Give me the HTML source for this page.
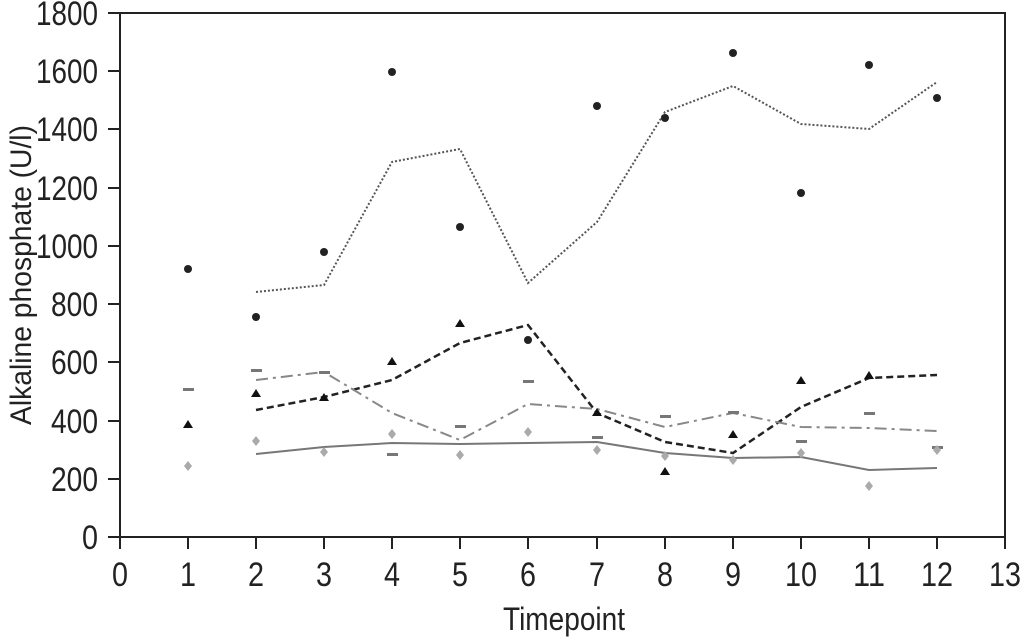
<!DOCTYPE html>
<html><head><style>body{margin:0;background:#fff}svg{display:block}</style></head><body>
<svg width="1020" height="639" viewBox="0 0 1020 639" xmlns="http://www.w3.org/2000/svg" font-family="'Liberation Sans',sans-serif">
<rect x="120" y="13" width="885" height="524" fill="none" stroke="#222" stroke-width="2"/>
<g stroke="#222" stroke-width="2">
<line x1="108" y1="537" x2="120" y2="537"/><line x1="108" y1="479" x2="120" y2="479"/><line x1="108" y1="421" x2="120" y2="421"/><line x1="108" y1="362" x2="120" y2="362"/><line x1="108" y1="304" x2="120" y2="304"/><line x1="108" y1="246" x2="120" y2="246"/><line x1="108" y1="188" x2="120" y2="188"/><line x1="108" y1="129" x2="120" y2="129"/><line x1="108" y1="71" x2="120" y2="71"/><line x1="108" y1="13" x2="120" y2="13"/>
<line x1="120" y1="537" x2="120" y2="549"/><line x1="188" y1="537" x2="188" y2="549"/><line x1="256" y1="537" x2="256" y2="549"/><line x1="324" y1="537" x2="324" y2="549"/><line x1="392" y1="537" x2="392" y2="549"/><line x1="460" y1="537" x2="460" y2="549"/><line x1="528" y1="537" x2="528" y2="549"/><line x1="597" y1="537" x2="597" y2="549"/><line x1="665" y1="537" x2="665" y2="549"/><line x1="733" y1="537" x2="733" y2="549"/><line x1="801" y1="537" x2="801" y2="549"/><line x1="869" y1="537" x2="869" y2="549"/><line x1="937" y1="537" x2="937" y2="549"/><line x1="1005" y1="537" x2="1005" y2="549"/>
</g>
<g font-size="34" fill="#222" text-anchor="end">
<text x="98" y="549" textLength="16" lengthAdjust="spacingAndGlyphs">0</text>
<text x="98" y="491" textLength="47" lengthAdjust="spacingAndGlyphs">200</text>
<text x="98" y="433" textLength="47" lengthAdjust="spacingAndGlyphs">400</text>
<text x="98" y="374" textLength="47" lengthAdjust="spacingAndGlyphs">600</text>
<text x="98" y="316" textLength="47" lengthAdjust="spacingAndGlyphs">800</text>
<text x="98" y="258" textLength="62" lengthAdjust="spacingAndGlyphs">1000</text>
<text x="98" y="200" textLength="62" lengthAdjust="spacingAndGlyphs">1200</text>
<text x="98" y="141" textLength="62" lengthAdjust="spacingAndGlyphs">1400</text>
<text x="98" y="83" textLength="62" lengthAdjust="spacingAndGlyphs">1600</text>
<text x="98" y="25" textLength="62" lengthAdjust="spacingAndGlyphs">1800</text>
</g>
<g font-size="34" fill="#222" text-anchor="middle">
<text x="120" y="586" textLength="16" lengthAdjust="spacingAndGlyphs">0</text>
<text x="188" y="586" textLength="16" lengthAdjust="spacingAndGlyphs">1</text>
<text x="256" y="586" textLength="16" lengthAdjust="spacingAndGlyphs">2</text>
<text x="324" y="586" textLength="16" lengthAdjust="spacingAndGlyphs">3</text>
<text x="392" y="586" textLength="16" lengthAdjust="spacingAndGlyphs">4</text>
<text x="460" y="586" textLength="16" lengthAdjust="spacingAndGlyphs">5</text>
<text x="528" y="586" textLength="16" lengthAdjust="spacingAndGlyphs">6</text>
<text x="597" y="586" textLength="16" lengthAdjust="spacingAndGlyphs">7</text>
<text x="665" y="586" textLength="16" lengthAdjust="spacingAndGlyphs">8</text>
<text x="733" y="586" textLength="16" lengthAdjust="spacingAndGlyphs">9</text>
<text x="801" y="586" textLength="32" lengthAdjust="spacingAndGlyphs">10</text>
<text x="869" y="586" textLength="32" lengthAdjust="spacingAndGlyphs">11</text>
<text x="937" y="586" textLength="32" lengthAdjust="spacingAndGlyphs">12</text>
<text x="1005" y="586" textLength="32" lengthAdjust="spacingAndGlyphs">13</text>
<text x="564" y="630" font-size="32" textLength="122" lengthAdjust="spacingAndGlyphs">Timepoint</text>
<text transform="translate(31,275) rotate(-90)" font-size="30" textLength="300" lengthAdjust="spacingAndGlyphs">Alkaline phosphate (U/l)</text>
</g>
<polyline fill="none" stroke="#555" stroke-width="2" stroke-dasharray="2,2" points="256,292 324,285 392,162 460,149 528,283 597,222 665,112 733,86 801,124 869,129 937,82"/>
<polyline fill="none" stroke="#222" stroke-width="2.5" stroke-dasharray="7,4" points="256,410 324,397 392,380 460,343 528,325 597,413 665,442 733,453 801,407 869,378 937,375"/>
<polyline fill="none" stroke="#888" stroke-width="2" stroke-dasharray="12,5,3,5" points="256,380 324,372 392,413 460,440 528,404 597,409 665,427 733,413 801,427 869,428 937,431"/>
<polyline fill="none" stroke="#777" stroke-width="2" points="256,454 324,447 392,443 460,444 528,443 597,442 665,453 733,458 801,457 869,470 937,468"/>
<g fill="#222">
<circle cx="188" cy="269" r="4"/><circle cx="256" cy="317" r="4"/><circle cx="324" cy="252" r="4"/><circle cx="392" cy="72" r="4"/><circle cx="460" cy="227" r="4"/><circle cx="528" cy="340" r="4"/><circle cx="597" cy="106" r="4"/><circle cx="665" cy="118" r="4"/><circle cx="733" cy="53" r="4"/><circle cx="801" cy="193" r="4"/><circle cx="869" cy="65" r="4"/><circle cx="937" cy="98" r="4"/>
</g>
<g fill="#111">
<path d="M188,420 l5,8 h-10z"/><path d="M256,389 l5,8 h-10z"/><path d="M324,393 l5,8 h-10z"/><path d="M392,357 l5,8 h-10z"/><path d="M460,319 l5,8 h-10z"/><path d="M597,408 l5,8 h-10z"/><path d="M665,467 l5,8 h-10z"/><path d="M733,430 l5,8 h-10z"/><path d="M801,376 l5,8 h-10z"/><path d="M869,371 l5,8 h-10z"/>
</g>
<g fill="#777">
<rect x="183" y="388" width="11" height="3"/><rect x="251" y="369" width="11" height="3"/><rect x="319" y="371" width="11" height="3"/><rect x="387" y="453" width="11" height="3"/><rect x="455" y="425" width="11" height="3"/><rect x="523" y="380" width="11" height="3"/><rect x="592" y="436" width="11" height="3"/><rect x="660" y="415" width="11" height="3"/><rect x="728" y="411" width="11" height="3"/><rect x="796" y="440" width="11" height="3"/><rect x="864" y="412" width="11" height="3"/><rect x="932" y="446" width="11" height="3"/>
</g>
<g fill="#aaa">
<path d="M188,461 l4,5 -4,5 -4,-5z"/><path d="M256,436 l4,5 -4,5 -4,-5z"/><path d="M324,447 l4,5 -4,5 -4,-5z"/><path d="M392,429 l4,5 -4,5 -4,-5z"/><path d="M460,450 l4,5 -4,5 -4,-5z"/><path d="M528,427 l4,5 -4,5 -4,-5z"/><path d="M597,445 l4,5 -4,5 -4,-5z"/><path d="M665,451 l4,5 -4,5 -4,-5z"/><path d="M733,455 l4,5 -4,5 -4,-5z"/><path d="M801,448 l4,5 -4,5 -4,-5z"/><path d="M869,481 l4,5 -4,5 -4,-5z"/><path d="M937,445 l4,5 -4,5 -4,-5z"/>
</g>
</svg>
</body></html>
